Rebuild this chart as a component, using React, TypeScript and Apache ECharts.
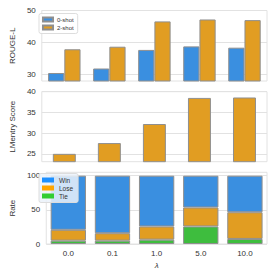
import React, { useEffect, useRef } from "react";
import * as echarts from "echarts";

const lambdas = ["0.0", "0.1", "1.0", "5.0", "10.0"];
const zeroShot = [30.5, 31.9, 37.7, 38.8, 38.4];
const twoShot = [37.9, 38.7, 46.6, 47.2, 47.0];
const lmentry = [25.0, 27.6, 32.2, 38.5, 38.6];
const tie = [4.9, 4.9, 6.4, 25.7, 7.4];
const lose = [15.9, 10.9, 19.3, 27.8, 39.1];
const win = [79.2, 84.2, 74.3, 46.5, 53.5];
const rougeTicks = [30, 40, 50];
const lmTicks = [25, 30, 35, 40];
const rateTicks = [0, 50, 100];

const BLUE = "#3a8fe0";
const ORANGE = "#e19d22";
const GREEN = "#3ebd3e";
const EDGE = "#8f8f8f";
const GRID = "#e2e2e2";
const FONT = "Liberation Sans";

export default function App() {
  const ref = useRef<HTMLDivElement>(null);
  useEffect(() => {
    const chart = echarts.init(ref.current!, null, { renderer: "svg" });
    const grids = [
      { left: 37, right: 8, top: 10.5, height: 70.5 },
      { left: 37, right: 8, top: 91.7, height: 70 },
      { left: 37, right: 8, top: 172.3, height: 71.7 },
    ].map((g) => ({ ...g, show: true, borderColor: GRID, borderWidth: 1, backgroundColor: "#fff" }));
    const xAxisBase = (i: number) => ({
      type: "category",
      gridIndex: i,
      data: lambdas,
      axisLine: { show: false },
      axisTick: { show: false },
      splitLine: { show: false },
      axisLabel: { show: i === 2, fontSize: 8, color: "#333", fontFamily: FONT, margin: 5 },
      name: i === 2 ? "λ" : "",
      nameLocation: "middle",
      nameGap: 17,
      nameTextStyle: { fontSize: 8, fontStyle: "italic", color: "#333", fontFamily: FONT },
    });
    const yAxisBase = (i: number, min: number, max: number, ticks: number[], name: string) => ({
      type: "value",
      gridIndex: i,
      min,
      max,
      name,
      nameLocation: "middle",
      nameGap: 21,
      nameTextStyle: { fontSize: 8, color: "#333", fontFamily: FONT },
      axisLine: { show: false },
      axisTick: { show: false, customValues: ticks },
      axisLabel: { fontSize: 8, color: "#333", fontFamily: FONT, margin: 6, customValues: ticks },
      splitLine: { show: true, lineStyle: { color: GRID, width: 1 } },
    });
    const barStyle = (c: string) => ({ color: c, borderColor: EDGE, borderWidth: 1 });
    chart.setOption({
      animation: false,
      backgroundColor: "#fff",
      grid: grids,
      xAxis: [xAxisBase(0), xAxisBase(1), xAxisBase(2)],
      yAxis: [
        yAxisBase(0, 28, 50, rougeTicks, "ROUGE-L"),
        yAxisBase(1, 23.1, 40, lmTicks, "LMentry Score"),
        yAxisBase(2, 0, 105, rateTicks, "Rate"),
      ],
      legend: [
        {
          data: ["0-shot", "2-shot"],
          orient: "vertical",
          left: 39,
          top: 13.5,
          itemWidth: 10,
          itemHeight: 4,
          itemGap: 2,
          icon: "rect",
          padding: [3, 4, 3, 3],
          backgroundColor: "rgba(255,255,255,0.85)",
          borderColor: "#dddddd",
          borderWidth: 1,
          borderRadius: 2,
          textStyle: { fontSize: 6, color: "#333", fontFamily: FONT, padding: [0, 0, 0, -1] },
        },
        {
          data: [
            { name: "Win", itemStyle: { color: "#1e90ff", borderWidth: 0 } },
            { name: "Lose", itemStyle: { color: "#ffa500", borderWidth: 0 } },
            { name: "Tie", itemStyle: { color: "#32cd32", borderWidth: 0 } },
          ],
          orient: "vertical",
          left: 39,
          top: 173.5,
          itemWidth: 12,
          itemHeight: 5,
          itemGap: 1,
          icon: "rect",
          padding: [3, 5, 3, 3],
          backgroundColor: "rgba(235,242,250,0.85)",
          borderColor: "#dddddd",
          borderWidth: 1,
          borderRadius: 2,
          textStyle: { fontSize: 6.5, color: "#333", fontFamily: FONT },
        },
      ],
      series: [
        {
          type: "bar", name: "0-shot", xAxisIndex: 0, yAxisIndex: 0, data: zeroShot,
          barWidth: "36%", barGap: "0%", itemStyle: barStyle(BLUE),
        },
        {
          type: "bar", name: "2-shot", xAxisIndex: 0, yAxisIndex: 0, data: twoShot,
          barWidth: "36%", barGap: "0%", itemStyle: barStyle(ORANGE),
        },
        {
          type: "bar", name: "LMentry", xAxisIndex: 1, yAxisIndex: 1, data: lmentry,
          barWidth: "51%", itemStyle: barStyle(ORANGE),
        },
        {
          type: "bar", name: "Tie", xAxisIndex: 2, yAxisIndex: 2, data: tie, stack: "r",
          barWidth: "80%", itemStyle: barStyle(GREEN),
        },
        {
          type: "bar", name: "Lose", xAxisIndex: 2, yAxisIndex: 2, data: lose, stack: "r",
          barWidth: "80%", itemStyle: barStyle(ORANGE),
        },
        {
          type: "bar", name: "Win", xAxisIndex: 2, yAxisIndex: 2, data: win, stack: "r",
          barWidth: "80%", itemStyle: barStyle(BLUE),
        },
      ],
    });
    return () => chart.dispose();
  }, []);
  return (
    <div
      ref={ref}
      style={{ position: "fixed", left: 0, top: 0, width: 275, height: 275 }}
    />
  );
}
